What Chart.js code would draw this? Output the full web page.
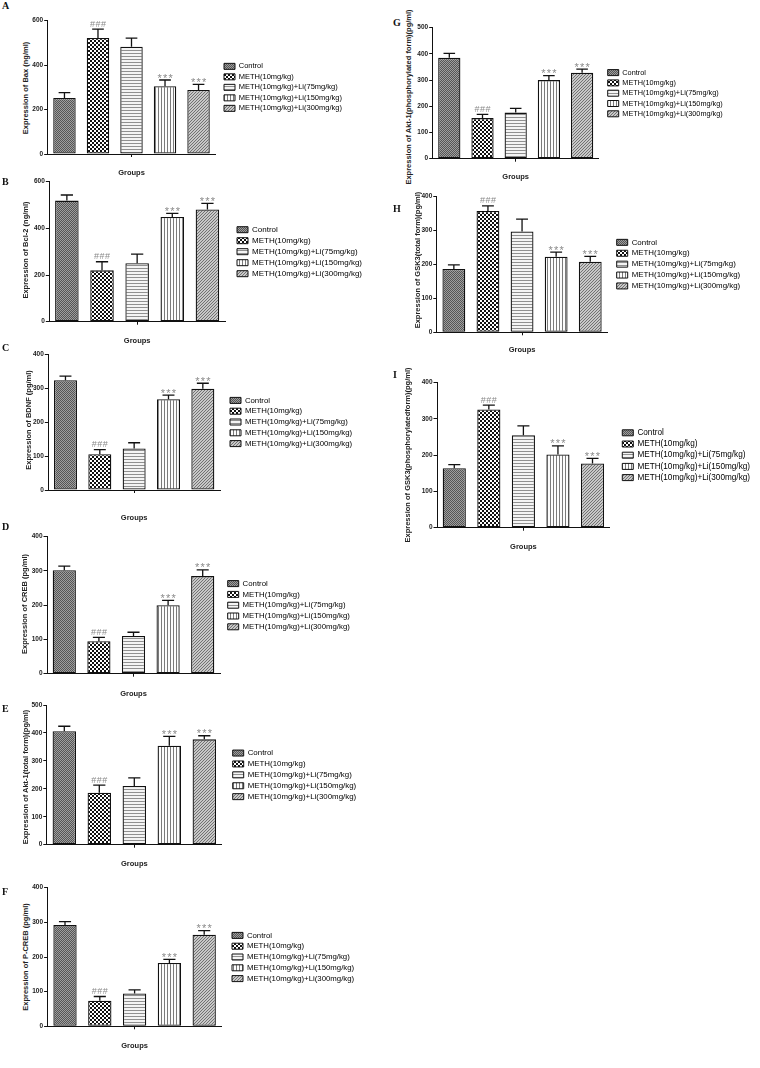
<!DOCTYPE html>
<html>
<head>
<meta charset="utf-8">
<script src="https://cdn.jsdelivr.net/npm/chart.js@4.4.0/dist/chart.umd.min.js"></script>
<style>
    body { margin: 0; background: #fff; }
    #fig { position: relative; width: 760px; height: 1068px; overflow: hidden; background: #fff; }
    #fig canvas { position: absolute; }
    .tag { position: absolute; font: bold 10px "Liberation Serif", serif; color: #111; line-height: 12px; }
    .ytitle {
        position: absolute; white-space: nowrap;
        font: bold 7.5px "Liberation Sans", Arial, sans-serif; color: #222;
        transform: translate(-50%, -50%) rotate(-90deg);
    }
</style>
</head>
<body>
<div id="fig"></div>
<script>
// Data
const groups = ['Control', 'METH(10mg/kg)', 'METH(10mg/kg)+Li(75mg/kg)', 'METH(10mg/kg)+Li(150mg/kg)', 'METH(10mg/kg)+Li(300mg/kg)'];
const sigMarks = ['', '###', '', '***', '***'];

const ticks600 = [0, 200, 400, 600];
const ticks500 = [0, 100, 200, 300, 400, 500];
const ticks400 = [0, 100, 200, 300, 400];

const baxMean = [252, 522, 483, 305, 288];
const baxErr = [24, 40, 39, 28, 25];
const bcl2Mean = [519, 220, 251, 449, 481];
const bcl2Err = [24, 37, 39, 15, 26];
const bdnfMean = [323, 105, 122, 267, 298];
const bdnfErr = [12, 14, 17, 12, 16];
const crebMean = [302, 95, 110, 200, 285];
const crebErr = [12, 11, 11, 14, 18];
const aktTotalMean = [406, 186, 210, 354, 377];
const aktTotalErr = [18, 27, 29, 34, 13];
const pcrebMean = [292, 74, 95, 183, 264];
const pcrebErr = [10, 12, 10, 10, 12];
const aktPhosMean = [385, 155, 176, 300, 328];
const aktPhosErr = [17, 14, 16, 17, 14];
const gskTotalMean = [186, 356, 296, 222, 207];
const gskTotalErr = [12, 15, 36, 13, 16];
const gskPhosMean = [164, 326, 255, 202, 177];
const gskPhosErr = [10, 12, 26, 24, 14];

// Panel layout (positions in page pixels)
const panels = [
    { tag: 'A', title: 'Expression of Bax (ng/ml)', mean: baxMean, err: baxErr, ticks: ticks600,
      col: 0, plotL: 47.7, plotR: 215.3, plotT: 20.7, plotB: 154, groupsY: 172.7, boxX: 224, fs: 7.5, titleX: 25, titleY: 87.5, tagY: 0 },
    { tag: 'B', title: 'Expression of Bcl-2 (ng/ml)', mean: bcl2Mean, err: bcl2Err, ticks: ticks600,
      col: 0, plotL: 49.3, plotR: 225, plotT: 181.7, plotB: 321.7, groupsY: 341, boxX: 237, fs: 8, titleX: 25, titleY: 250, tagY: 176 },
    { tag: 'C', title: 'Expression of BDNF (pg/ml)', mean: bdnfMean, err: bdnfErr, ticks: ticks400,
      col: 0, plotL: 48.3, plotR: 220, plotT: 354, plotB: 490, groupsY: 518, boxX: 230, fs: 7.8, titleX: 28, titleY: 420, tagY: 342 },
    { tag: 'D', title: 'Expression of CREB (pg/ml)', mean: crebMean, err: crebErr, ticks: ticks400,
      col: 0, plotL: 47, plotR: 220, plotT: 536.7, plotB: 673.7, groupsY: 694, boxX: 227.7, fs: 7.8, titleX: 23.5, titleY: 604, tagY: 521 },
    { tag: 'E', title: 'Expression of Akt-1(total form)(pg/ml)', mean: aktTotalMean, err: aktTotalErr, ticks: ticks500,
      col: 0, plotL: 46.8, plotR: 221.8, plotT: 705, plotB: 844.7, groupsY: 864, boxX: 232.7, fs: 7.9, titleX: 25, titleY: 777, tagY: 703 },
    { tag: 'F', title: 'Expression of P-CREB (pg/ml)', mean: pcrebMean, err: pcrebErr, ticks: ticks400,
      col: 0, plotL: 47.6, plotR: 221.6, plotT: 887.7, plotB: 1026.3, groupsY: 1046, boxX: 232, fs: 7.8, titleX: 25, titleY: 957, tagY: 886 },
    { tag: 'G', title: 'Expression of Akt-1(phosphorylated form)(pg/ml)', mean: aktPhosMean, err: aktPhosErr, ticks: ticks500,
      col: 1, plotL: 432.7, plotR: 598.7, plotT: 27.7, plotB: 158.7, groupsY: 176.7, boxX: 607.7, fs: 7.3, titleX: 408, titleY: 97, tagY: 17 },
    { tag: 'H', title: 'Expression of GSK3(total form)(pg/ml)', mean: gskTotalMean, err: gskTotalErr, ticks: ticks400,
      col: 1, plotL: 436.8, plotR: 607.3, plotT: 196, plotB: 332.3, groupsY: 350, boxX: 616.7, fs: 7.9, titleX: 417, titleY: 260, tagY: 203 },
    { tag: 'I', title: 'Expression of GSK3(phosphorylatedform)(pg/ml)', mean: gskPhosMean, err: gskPhosErr, ticks: ticks400,
      col: 1, plotL: 437, plotR: 618.5, plotT: 382.7, plotB: 527.7, groupsY: 547.3, boxX: 631, fs: 8.2, titleX: 407, titleY: 455, tagY: 369 }
];

const FAMILY = "'Liberation Sans', Arial, sans-serif";

// Bar fill patterns
function makePattern(w, h, paint) {
    const c = document.createElement('canvas');
    c.width = w;
    c.height = h;
    const g = c.getContext('2d');
    paint(g);
    return g.createPattern(c, 'repeat');
}

const fills = [
    // Control: fine dark texture
    makePattern(2, 2, g => {
        g.fillStyle = '#9e9e9e'; g.fillRect(0, 0, 2, 2);
        g.fillStyle = '#555555'; g.fillRect(0, 0, 1, 1); g.fillRect(1, 1, 1, 1);
    }),
    // METH: coarse checker
    makePattern(4, 4, g => {
        g.fillStyle = '#ffffff'; g.fillRect(0, 0, 4, 4);
        g.fillStyle = '#111111'; g.fillRect(0, 0, 2, 2); g.fillRect(2, 2, 2, 2);
    }),
    // Li 75: horizontal stripes
    makePattern(1, 3, g => {
        g.fillStyle = '#f4f4f4'; g.fillRect(0, 0, 1, 3);
        g.fillStyle = '#909090'; g.fillRect(0, 2, 1, 1);
    }),
    // Li 150: vertical stripes
    makePattern(3, 1, g => {
        g.fillStyle = '#fcfcfc'; g.fillRect(0, 0, 3, 1);
        g.fillStyle = '#7a7a7a'; g.fillRect(2, 0, 1, 1);
    }),
    // Li 300: diagonal hatch
    makePattern(3, 3, g => {
        g.fillStyle = '#c8c8c8'; g.fillRect(0, 0, 3, 3);
        g.fillStyle = '#727272';
        for (let i = 0; i < 3; i++) g.fillRect(i, 2 - i, 1, 1);
    })
];

// Error bars + significance marks
const errorBars = {
    id: 'errorBars',
    afterDatasetsDraw(chart) {
        const ctx = chart.ctx;
        const yScale = chart.scales.y;
        chart.data.datasets.forEach((ds, di) => {
            const meta = chart.getDatasetMeta(di);
            meta.data.forEach((bar, i) => {
                const top = yScale.getPixelForValue(ds.data[i] + ds.errors[i]);
                const half = bar.width * 0.26;
                ctx.save();
                ctx.strokeStyle = '#111';
                ctx.lineWidth = 1.3;
                ctx.beginPath();
                ctx.moveTo(bar.x, bar.y);
                ctx.lineTo(bar.x, top);
                ctx.moveTo(bar.x - half, top);
                ctx.lineTo(bar.x + half, top);
                ctx.stroke();

                const mark = ds.marks[i];
                if (mark) {
                    const star = mark[0] === '*';
                    ctx.fillStyle = '#8a8a8a';
                    ctx.font = (star ? '11px ' : '9px ') + FAMILY;
                    ctx.textAlign = 'center';
                    ctx.textBaseline = 'alphabetic';
                    const base = star ? top + 1.5 : top - 2.5;
                    [...mark].forEach((ch, k) => ctx.fillText(ch, bar.x + (k - 1) * 5.5, base));
                }
                ctx.restore();
            });
        });
    }
};

// measure legend text so the legend box lands where wanted
const measureCtx = document.createElement('canvas').getContext('2d');
function legendWidth(fs, boxW, pad) {
    measureCtx.font = fs + 'px ' + FAMILY;
    const widest = Math.max(...groups.map(g => measureCtx.measureText(g).width));
    return pad + boxW + fs / 2 + widest + 10;
}

const fig = document.getElementById('fig');

panels.forEach(p => {
    const cx = p.col * 380;
    const cy = Math.floor(p.plotT - 14);
    const W = 380;
    const H = Math.ceil(p.groupsY + 9) - cy;
    const legendPad = 3;
    const boxW = 11;
    const legendW = legendWidth(p.fs, boxW, legendPad);
    const gapW = p.boxX - p.plotR - legendPad;
    const padRight = Math.max(0, W - (p.plotR - cx) - legendW - gapW);
    const axisH = H - (p.plotB - cy);
    const groupsLH = 7.5 * 1.2;

    // panel letter
    const tag = document.createElement('div');
    tag.className = 'tag';
    tag.textContent = p.tag;
    tag.style.left = (cx + (p.col ? 13 : 2)) + 'px';
    tag.style.top = p.tagY + 'px';
    fig.appendChild(tag);

    // y axis title
    const yt = document.createElement('div');
    yt.className = 'ytitle';
    yt.textContent = p.title;
    yt.style.left = p.titleX + 'px';
    yt.style.top = p.titleY + 'px';
    fig.appendChild(yt);

    const canvas = document.createElement('canvas');
    canvas.width = W;
    canvas.height = H;
    canvas.style.left = cx + 'px';
    canvas.style.top = cy + 'px';
    fig.appendChild(canvas);

    const ticks = p.ticks;

    new Chart(canvas, {
        type: 'bar',
        data: {
            labels: groups,
            datasets: [{
                data: p.mean,
                errors: p.err,
                marks: sigMarks,
                xAxisID: 'x',
                yAxisID: 'y',
                backgroundColor: fills,
                borderColor: '#111',
                borderWidth: 1.3,
                borderSkipped: false,
                barPercentage: 0.67,
                categoryPercentage: 1
            }]
        },
        options: {
            responsive: false,
            animation: false,
            devicePixelRatio: 1,
            events: [],
            layout: { padding: { left: 0, top: p.plotT - cy, right: padRight, bottom: 0 } },
            scales: {
                x: {
                    offset: true,
                    ticks: { display: false },
                    grid: {
                        offset: false,
                        drawOnChartArea: false,
                        drawTicks: true,
                        tickLength: 3,
                        color: c => c.index === 2 ? '#111' : 'rgba(0,0,0,0)'
                    },
                    border: { display: true, color: '#111', width: 1 },
                    title: {
                        display: true,
                        text: 'Groups',
                        color: '#222',
                        font: { family: FAMILY, size: 7.5, weight: 'bold' },
                        padding: { top: 0, bottom: cy + H - p.groupsY - groupsLH / 2 }
                    },
                    afterFit: s => { s.height = axisH; }
                },
                y: {
                    min: ticks[0],
                    max: ticks[ticks.length - 1],
                    ticks: {
                        stepSize: ticks[1] - ticks[0],
                        color: '#222',
                        padding: 1,
                        font: { family: FAMILY, size: 6.5, weight: 'bold' }
                    },
                    grid: { drawOnChartArea: false, drawTicks: true, tickLength: 3.5, color: '#111' },
                    border: { display: true, color: '#111', width: 1 },
                    afterFit: s => { s.width = p.plotL - cx; }
                },
                gap: {
                    type: 'linear',
                    position: 'right',
                    display: true,
                    ticks: { display: false },
                    grid: { display: false },
                    border: { display: false },
                    afterFit: s => { s.width = gapW; }
                }
            },
            plugins: {
                tooltip: { enabled: false },
                legend: {
                    position: 'right',
                    fullSize: false,
                    maxWidth: 1000,
                    onClick: null,
                    labels: {
                        boxWidth: boxW,
                        boxHeight: 6,
                        padding: legendPad,
                        color: '#222',
                        font: { family: FAMILY, size: p.fs },
                        generateLabels: () => groups.map((g, i) => ({
                            text: g,
                            fillStyle: fills[i],
                            strokeStyle: '#111',
                            lineWidth: 1,
                            hidden: false,
                            index: i,
                            datasetIndex: 0
                        }))
                    }
                }
            }
        },
        plugins: [errorBars]
    });
});
</script>
</body>
</html>
